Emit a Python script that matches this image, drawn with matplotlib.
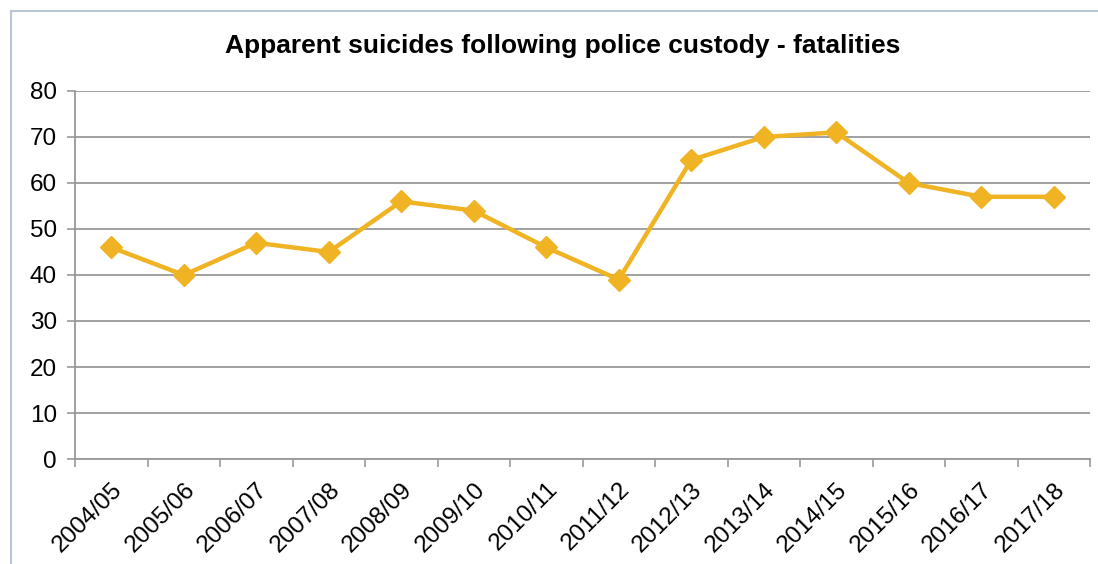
import numpy as np
import matplotlib.pyplot as plt
from matplotlib.patches import Rectangle

plt.rcParams['font.family'] = ['Liberation Sans', 'DejaVu Sans']

years = ["2004/05", "2005/06", "2006/07", "2007/08", "2008/09", "2009/10", "2010/11",
         "2011/12", "2012/13", "2013/14", "2014/15", "2015/16", "2016/17", "2017/18"]
fatalities = [46, 40, 47, 45, 56, 54, 46, 39, 65, 70, 71, 60, 57, 57]

W, H = 1098, 564
fig = plt.figure(figsize=(W / 100, H / 100), dpi=100)

# chart frame (only top and left edges visible)
fig.patches.append(Rectangle((11 / W, -0.1), 1.2, 1 - 11 / H + 0.1, transform=fig.transFigure,
                             fill=False, edgecolor='#b9c6d3', linewidth=1.5))

ax = fig.add_axes([75 / W, 1 - 459 / H, (1090 - 75) / W, (459 - 91) / H])

x = np.arange(len(years)) + 0.5
ax.plot(x, fatalities, color='#f0b323', linewidth=3.2, marker='D', markersize=11,
        clip_on=False, zorder=3)

ax.set_xlim(0, len(years))
ax.set_ylim(0, 80)
ax.set_yticks(range(0, 81, 10))
ax.yaxis.grid(True, color='#999999', linewidth=1.3)
ax.set_axisbelow(True)

ax.set_xticks(np.arange(len(years) + 1))
ax.set_xticklabels([])
ax.set_xticks(x, minor=True)
ax.set_xticklabels(years, minor=True, rotation=45, ha='right', rotation_mode='anchor')
ax.tick_params(axis='x', which='major', length=6, width=1.2, color='#999999')
ax.tick_params(axis='x', which='minor', length=0, labelsize=17.5, pad=14)
ax.tick_params(axis='y', length=6, width=1.2, color='#999999', labelsize=17.5, pad=7)

for s in ['top', 'right']:
    ax.spines[s].set_visible(False)
for s in ['left', 'bottom']:
    ax.spines[s].set_color('#999999')
    ax.spines[s].set_linewidth(1.3)

fig.text(563 / W, 1 - 46 / H, "Apparent suicides following police custody - fatalities",
         ha='center', va='center', fontsize=19, fontweight='bold')

fig.savefig('out.png', dpi=100)
